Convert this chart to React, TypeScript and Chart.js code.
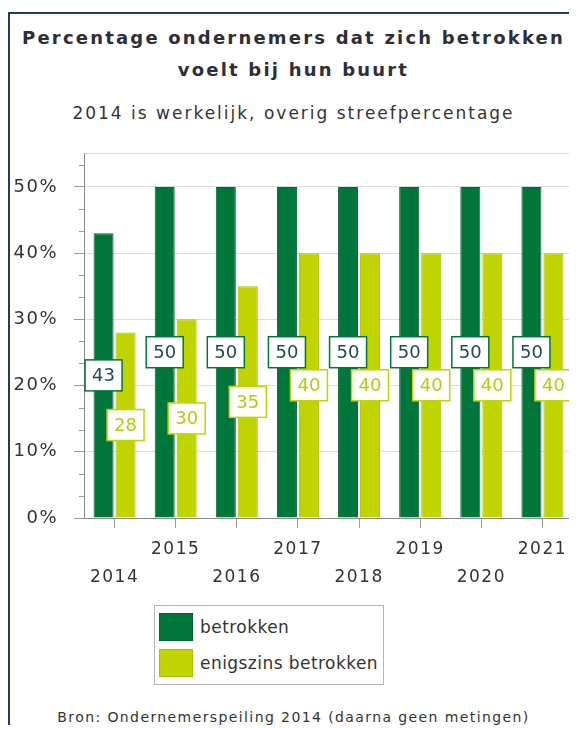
import React, { useEffect, useRef } from 'react';
import { Chart, registerables } from 'chart.js';

Chart.register(...registerables);

const years = ['2014', '2015', '2016', '2017', '2018', '2019', '2020', '2021'];
const betrokken = [43, 50, 50, 50, 50, 50, 50, 50];
const enigszins = [28, 30, 35, 40, 40, 40, 40, 40];
const seriesNames = ['betrokken', 'enigszins betrokken'];
const titleLines = ['Percentage ondernemers dat zich betrokken', 'voelt bij hun buurt'];
const subtitleText = '2014 is werkelijk, overig streefpercentage';
const sourceText = 'Bron: Ondernemerspeiling 2014 (daarna geen metingen)';

const FONT = '"DejaVu Sans", Verdana, sans-serif';
const DARK = '#00763a';
const DARK_EDGE = '#006630';
const LIGHT = '#bfd400';
const LIGHT_EDGE = '#adc000';
const DARK_TEXT = '#224b4e';
const LIGHT_TEXT = '#b4cc10';

const spacingPlugin = {
  id: 'spacing',
  beforeDraw(chart: any) {
    chart.ctx.letterSpacing = '1.5px';
  },
};

const boxLabelPlugin = {
  id: 'boxLabels',
  afterDatasetsDraw(chart: any) {
    const ctx = chart.ctx;
    chart.data.datasets.forEach((ds: any, di: number) => {
      const meta = chart.getDatasetMeta(di);
      meta.data.forEach((bar: any, i: number) => {
        const p = bar.getProps(['x', 'y', 'base'], true);
        const cy = (p.y + p.base) / 2;
        const w = 37;
        const h = 31;
        ctx.save();
        ctx.letterSpacing = '0px';
        ctx.fillStyle = '#ffffff';
        ctx.fillRect(p.x - w / 2, cy - h / 2, w, h);
        ctx.strokeStyle = di === 0 ? DARK : LIGHT;
        ctx.lineWidth = 1.5;
        ctx.strokeRect(p.x - w / 2, cy - h / 2, w, h);
        ctx.fillStyle = di === 0 ? DARK_TEXT : LIGHT_TEXT;
        ctx.font = '18px ' + FONT;
        ctx.textAlign = 'center';
        ctx.textBaseline = 'middle';
        ctx.fillText(String(ds.data[i]), p.x, cy + 1);
        ctx.restore();
      });
    });
  },
};

const framePlugin = {
  id: 'frameExtras',
  afterDraw(chart: any) {
    const ctx = chart.ctx;
    const area = chart.chartArea;
    const y = chart.scales.y;
    ctx.save();
    ctx.strokeStyle = '#d4d4d4';
    ctx.lineWidth = 1;
    ctx.beginPath();
    ctx.moveTo(Math.round(area.right) - 0.5, area.top);
    ctx.lineTo(Math.round(area.right) - 0.5, area.bottom);
    ctx.stroke();
    ctx.strokeStyle = '#999999';
    ctx.beginPath();
    for (let k = 1; k < 17; k++) {
      if (k % 3 === 0) continue;
      const v = (k * 10) / 3;
      if (v > y.max) break;
      const py = Math.round(y.getPixelForValue(v)) + 0.5;
      ctx.moveTo(area.left - 5, py);
      ctx.lineTo(area.left, py);
    }
    ctx.stroke();
    ctx.restore();
  },
};

function ChartCanvas() {
  const ref = useRef<HTMLCanvasElement | null>(null);
  useEffect(() => {
    if (!ref.current) return;
    const chart = new Chart(ref.current, {
      type: 'bar',
      data: {
        labels: years,
        datasets: [
          {
            label: seriesNames[0],
            data: betrokken,
            backgroundColor: DARK,
            borderColor: DARK_EDGE,
            borderWidth: 1,
            barPercentage: 0.91,
            categoryPercentage: 0.72,
          },
          {
            label: seriesNames[1],
            data: enigszins,
            backgroundColor: LIGHT,
            borderColor: LIGHT_EDGE,
            borderWidth: 1,
            barPercentage: 0.91,
            categoryPercentage: 0.72,
          },
        ],
      },
      options: {
        animation: false,
        responsive: false,
        maintainAspectRatio: false,
        layout: { padding: { top: 0, right: 4, left: 0, bottom: 0 } },
        plugins: {
          legend: { display: false },
          title: { display: false },
          tooltip: { enabled: false },
        },
        scales: {
          x: {
            grid: {
              display: true,
              drawOnChartArea: false,
              drawTicks: true,
              tickLength: 10,
              offset: false,
              tickColor: '#9a9a9a',
            },
            border: { color: '#8a8a8a', width: 1 },
            ticks: {
              autoSkip: false,
              maxRotation: 0,
              minRotation: 0,
              padding: 8,
              color: '#333333',
              font: { family: FONT, size: 17, lineHeight: 28 / 17 },
              callback: (_v: any, i: number) => (i % 2 === 0 ? ['', years[i]] : [years[i]]),
            },
            afterFit: (s: any) => {
              s.height = 82;
            },
          },
          y: {
            min: 0,
            max: 55,
            ticks: {
              stepSize: 5,
              padding: 16,
              color: '#333333',
              font: { family: FONT, size: 18 },
              callback: (v: any) => (Number(v) % 10 === 0 ? v + '%' : ''),
            },
            grid: {
              tickLength: 10,
              color: (c: any) =>
                c.tick && (c.tick.value % 10 === 0 || c.tick.value === 55) ? '#dcdcdc' : 'rgba(0,0,0,0)',
              tickColor: (c: any) => (c.tick && c.tick.value % 10 === 0 ? '#9a9a9a' : 'rgba(0,0,0,0)'),
            },
            border: { color: '#8a8a8a', width: 1 },
            afterFit: (s: any) => {
              s.width = 74;
            },
          },
        },
      },
      plugins: [spacingPlugin, boxLabelPlugin, framePlugin],
    });
    return () => chart.destroy();
  }, []);
  return (
    <canvas
      ref={ref}
      width={567}
      height={473}
      style={{ position: 'absolute', left: 0, top: 113, width: 567, height: 473 }}
    />
  );
}

export default function App() {
  return (
    <div
      style={{
        position: 'relative',
        top: 4,
        width: 567,
        height: 715,
        borderLeft: '2px solid #1f3a68',
        borderTop: '2px solid #1f3a68',
        fontFamily: FONT,
        color: '#333333',
        overflow: 'hidden',
        background: '#ffffff',
      }}
    >
      <div
        style={{
          position: 'absolute',
          left: 0,
          top: 8,
          width: 567,
          textAlign: 'center',
          fontWeight: 'bold',
          fontSize: 18,
          lineHeight: '32px',
          letterSpacing: '2.2px',
          color: '#2e2e38',
        }}
      >
        {titleLines.map((t) => (
          <div key={t}>{t}</div>
        ))}
      </div>
      <div
        style={{
          position: 'absolute',
          left: 0,
          top: 87,
          width: 567,
          textAlign: 'center',
          fontSize: 17,
          lineHeight: '24px',
          letterSpacing: '2px',
          color: '#333333',
        }}
      >
        {subtitleText}
      </div>
      <ChartCanvas />
      <div
        style={{
          position: 'absolute',
          left: 144,
          top: 591,
          width: 228,
          height: 78,
          border: '1px solid #b4b4b4',
        }}
      >
        {seriesNames.map((n, i) => (
          <div
            key={n}
            style={{ position: 'absolute', left: 4, top: 7 + i * 36, height: 28, display: 'flex', alignItems: 'center' }}
          >
            <div
              style={{
                width: 32,
                height: 26,
                background: i === 0 ? DARK : LIGHT,
                border: '1px solid ' + (i === 0 ? DARK_EDGE : LIGHT_EDGE),
              }}
            />
            <span
              style={{ marginLeft: 7, fontSize: 17, letterSpacing: '0.45px', color: '#333333', whiteSpace: 'nowrap' }}
            >
              {n}
            </span>
          </div>
        ))}
      </div>
      <div
        style={{
          position: 'absolute',
          left: 0,
          top: 693,
          width: 567,
          textAlign: 'center',
          fontSize: 14,
          lineHeight: '20px',
          letterSpacing: '1.4px',
          color: '#333333',
        }}
      >
        {sourceText}
      </div>
    </div>
  );
}
